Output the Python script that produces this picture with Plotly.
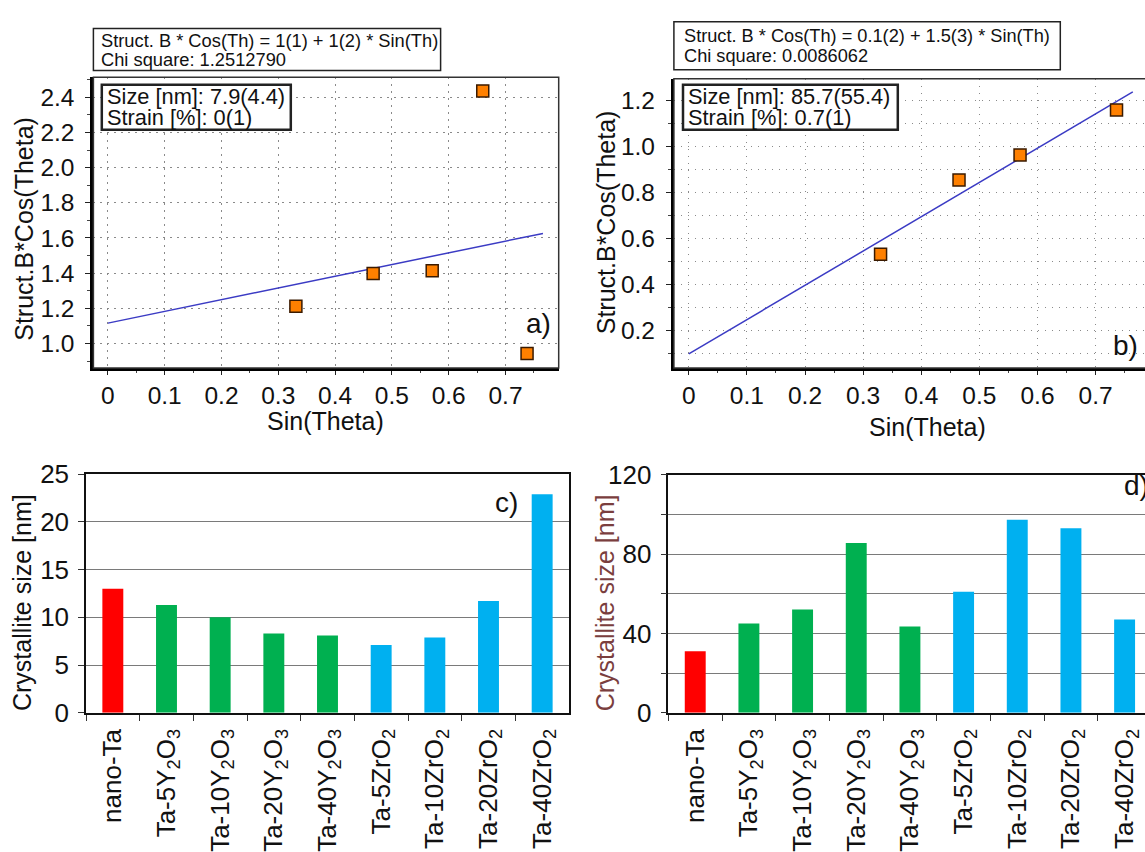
import plotly.graph_objects as go

# ---------------- data ----------------
# panel a) Williamson-Hall plot
a_sin = [0.331, 0.467, 0.571, 0.660, 0.738]
a_bcos = [1.212, 1.398, 1.414, 2.436, 0.944]
a_fit_x = [0.0, 0.766]
a_fit_y = [1.116, 1.626]

# panel b)
b_sin = [0.330, 0.465, 0.570, 0.736]
b_bcos = [0.532, 0.854, 0.962, 1.158]
b_fit_x = [0.0, 0.764]
b_fit_y = [0.099, 1.236]

# panels c) and d) crystallite size
categories = ["nano-Ta",
              "Ta-5Y<sub>2</sub>O<sub>3</sub>", "Ta-10Y<sub>2</sub>O<sub>3</sub>",
              "Ta-20Y<sub>2</sub>O<sub>3</sub>", "Ta-40Y<sub>2</sub>O<sub>3</sub>",
              "Ta-5ZrO<sub>2</sub>", "Ta-10ZrO<sub>2</sub>",
              "Ta-20ZrO<sub>2</sub>", "Ta-40ZrO<sub>2</sub>"]
c_size = [13.0, 11.3, 10.0, 8.3, 8.1, 7.1, 7.9, 11.7, 22.9]
d_size = [31.0, 45.0, 52.0, 85.5, 43.5, 61.0, 97.3, 93.0, 47.0]
bar_colors = ["#FF0000", "#00B050", "#00B050", "#00B050", "#00B050",
              "#00B0F0", "#00B0F0", "#00B0F0", "#00B0F0"]

d_tickvals = [0, 20, 40, 60, 80, 100, 120]
d_ticktext = ["0", "", "40", "", "80", "", "120"]

a_text1 = "Struct. B * Cos(Th) = 1(1) + 1(2) * Sin(Th)"
a_text2 = "Chi square: 1.2512790"
a_text3 = "Size [nm]: 7.9(4.4)"
a_text4 = "Strain [%]: 0(1)"
b_text1 = "Struct. B * Cos(Th) = 0.1(2) + 1.5(3) * Sin(Th)"
b_text2 = "Chi square: 0.0086062"
b_text3 = "Size [nm]: 85.7(55.4)"
b_text4 = "Strain [%]: 0.7(1)"

# ---------------- layout helpers ----------------
W, H = 1145, 852
FONT = "Liberation Sans, Arial, sans-serif"


def fx(px):
    return px / W


def fy(py):
    return 1 - py / H


fig = go.Figure()

marker = dict(symbol="square", size=12, color="#FF8000",
              line=dict(color="#3a1a00", width=1.5))
fitline = dict(color="#3B3BC4", width=1.5)

fig.add_trace(go.Scatter(x=a_fit_x, y=a_fit_y, mode="lines", line=fitline,
                         xaxis="x", yaxis="y", showlegend=False))
fig.add_trace(go.Scatter(x=a_sin, y=a_bcos, mode="markers", marker=marker,
                         xaxis="x", yaxis="y", showlegend=False, cliponaxis=False))
fig.add_trace(go.Scatter(x=b_fit_x, y=b_fit_y, mode="lines", line=fitline,
                         xaxis="x2", yaxis="y2", showlegend=False))
fig.add_trace(go.Scatter(x=b_sin, y=b_bcos, mode="markers", marker=marker,
                         xaxis="x2", yaxis="y2", showlegend=False))
fig.add_trace(go.Bar(x=categories, y=c_size, marker=dict(color=bar_colors, line=dict(width=0)),
                     xaxis="x3", yaxis="y3", showlegend=False))
fig.add_trace(go.Bar(x=categories, y=d_size, marker=dict(color=bar_colors, line=dict(width=0)),
                     xaxis="x4", yaxis="y4", showlegend=False))

tickfont_s = dict(family=FONT, size=24.5, color="#111")
tickfont_b = dict(family=FONT, size=26, color="#111")
GRIDDASH = "1.5px,5.5px"
dotgrid = dict(showgrid=True, gridcolor="#8a8a8a", griddash=GRIDDASH, gridwidth=1.3)

scatter_x = dict(dtick=0.1, tick0=0, ticks="outside", ticklen=4, tickcolor="#222",
                 showline=True, linecolor="black", linewidth=3, zeroline=False,
                 tickfont=tickfont_s, ticklabelstandoff=0, **dotgrid,
                 minor=dict(dtick=0.05, ticks="outside", ticklen=2.5, tickcolor="#444"))
scatter_y = dict(dtick=0.2, tick0=0, tickformat=".1f", ticks="outside", ticklen=5,
                 tickcolor="#222", showline=True, linecolor="black", linewidth=3,
                 zeroline=False, tickfont=tickfont_s, ticklabelstandoff=6, **dotgrid)

fig.update_layout(
    width=W, height=H, margin=dict(l=0, r=0, t=0, b=0),
    paper_bgcolor="white", plot_bgcolor="white",
    font=dict(family=FONT, color="#111"),
    bargap=0.61,
    xaxis=dict(domain=[fx(93.4), fx(558.7)], anchor="y", range=[-0.0255, 0.7937], **scatter_x),
    yaxis=dict(domain=[fy(369), fy(65)], anchor="x", range=[0.861, 2.514],
               minor=dict(dtick=0.1, ticks="outside", ticklen=3, tickcolor="#444"),
               **scatter_y),
    xaxis2=dict(domain=[fx(673.9), 1.0], anchor="y2", range=[-0.0256, 0.785], **scatter_x),
    yaxis2=dict(domain=[fy(369), fy(66.7)], anchor="x2", range=[0.038, 1.293],
                minor=dict(dtick=0.1, ticks="outside", ticklen=3, tickcolor="#444",
                           showgrid=True, gridcolor="#8a8a8a", griddash=GRIDDASH,
                           gridwidth=1.3),
                **scatter_y),
    xaxis3=dict(domain=[fx(86), fx(569)], anchor="y3", type="category", range=[-0.5, 8.5],
                tickson="boundaries", ticks="outside", ticklen=6, tickcolor="#333",
                tickangle=-90, tickfont=tickfont_b, showline=True, linecolor="#111",
                linewidth=1.5, mirror=True, showgrid=False, ticklabelstandoff=4),
    yaxis3=dict(domain=[fy(729.5), fy(480)], anchor="x3", range=[0, 25], dtick=5,
                ticks="outside", ticklen=6, tickcolor="#333", tickfont=tickfont_b,
                showline=True, linecolor="#111", linewidth=1.5, mirror=True,
                showgrid=True, gridcolor="#7a7a7a", gridwidth=1.2, zeroline=False,
                ticklabelstandoff=4),
    xaxis4=dict(domain=[fx(668.4), 1.0], anchor="y4", type="category", range=[-0.5, 8.38],
                tickson="boundaries", ticks="outside", ticklen=6, tickcolor="#333",
                tickangle=-90, tickfont=tickfont_b, showline=True, linecolor="#111",
                linewidth=1.5, mirror=True, showgrid=False, ticklabelstandoff=4),
    yaxis4=dict(domain=[fy(729.5), fy(480.5)], anchor="x4", range=[0, 120],
                tickvals=d_tickvals, ticktext=d_ticktext,
                ticks="outside", ticklen=6, tickcolor="#333", tickfont=tickfont_b,
                showline=True, linecolor="#111", linewidth=1.5,
                showgrid=True, gridcolor="#7a7a7a", gridwidth=1.2, zeroline=False,
                ticklabelstandoff=4),
)

shapes = []
annotations = []


def box(x0, y0, x1, y1, width=1.5, color="#222", fill="rgba(0,0,0,0)"):
    shapes.append(dict(type="rect", xref="paper", yref="paper",
                       x0=fx(x0), x1=fx(x1), y0=fy(y1), y1=fy(y0),
                       line=dict(color=color, width=width), fillcolor=fill,
                       layer="above"))


def text(t, x, y, size, xanchor="left", yanchor="middle", angle=0, color="#111"):
    annotations.append(dict(text=t, xref="paper", yref="paper", x=fx(x), y=fy(y),
                            xanchor=xanchor, yanchor=yanchor, showarrow=False,
                            textangle=angle, font=dict(family=FONT, size=size, color=color)))


# plot frames of scatter panels (thin top/right)
box(93.4, 65, 558.7, 369, width=1.5, color="#333")
box(673.9, 66.7, 1150, 369, width=1.5, color="#333")

# info boxes panel a
box(93.4, 14, 440.6, 58, width=1.5, fill="white")
text(a_text1, 98.5, 26.5, 18.3)
text(a_text2, 98.5, 46, 18.3)
box(101.8, 73, 290.8, 120, width=2.5, fill="white")
text(a_text3, 104.5, 85.5, 21.8)
text(a_text4, 104.5, 107, 21.8)

# info boxes panel b
box(673.9, 7, 1060.3, 57.3, width=1.5, fill="white")
text(b_text1, 681.5, 21.7, 18.2)
text(b_text2, 681.5, 43.3, 18.2)
box(683, 73, 897.8, 120, width=2.5, fill="white")
text(b_text3, 685.5, 85.5, 21.8)
text(b_text4, 685.5, 107, 21.8)

# axis titles
text("Struct.B*Cos(Theta)", 24.5, 224, 25, xanchor="center", angle=-90)
text("Sin(Theta)", 325.3, 424, 25, xanchor="center")
text("Struct.B*Cos(Theta)", 606, 216.7, 25, xanchor="center", angle=-90)
text("Sin(Theta)", 927.6, 431, 25, xanchor="center")
text("Crystallite size [nm]", 22.7, 614, 25, xanchor="center", angle=-90)
text("Crystallite size [nm]", 605, 615, 25, xanchor="center", angle=-90, color="#7A3E3E")

# panel letters
text("a)", 538, 323, 28, xanchor="center")
text("b)", 1125, 345, 28, xanchor="center")
text("c)", 506, 510, 28, xanchor="center")
text("d)", 1122, 492, 28, xanchor="left")

fig.update_layout(shapes=shapes, annotations=annotations)

fig.write_html("out.html", config={"displayModeBar": False},
               post_script="document.body.style.margin='0';document.body.style.overflow='hidden';")
